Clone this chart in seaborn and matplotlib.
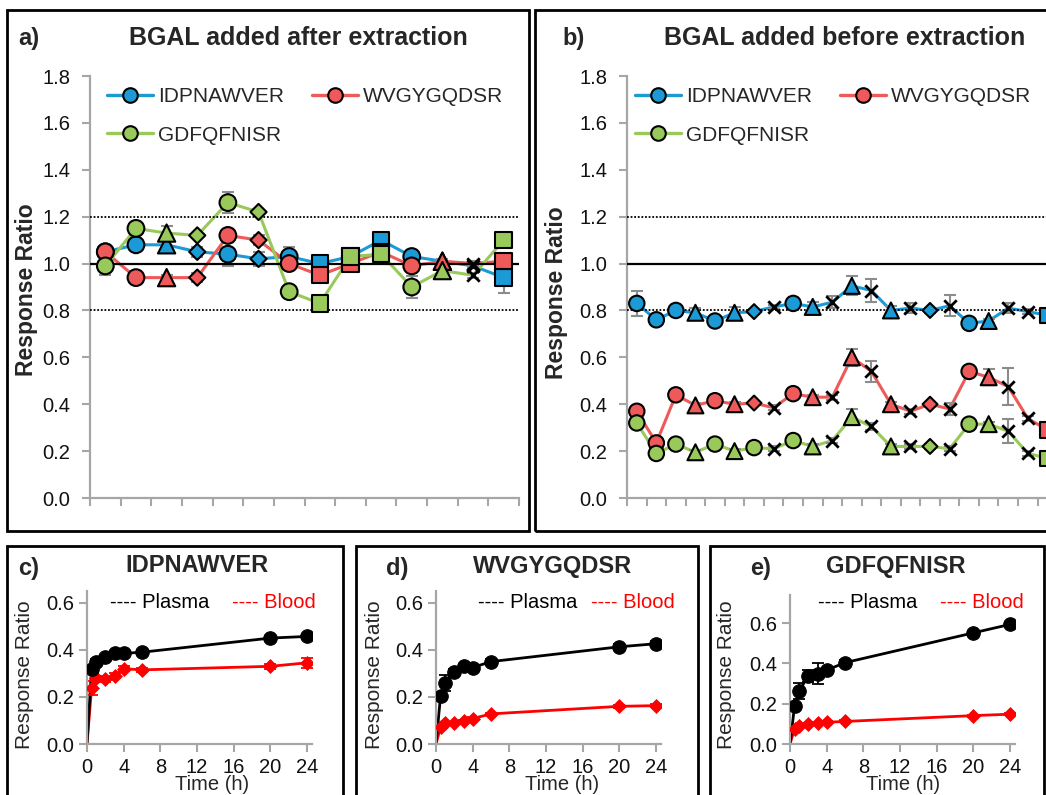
import matplotlib
matplotlib.use("Agg")
import matplotlib.pyplot as plt
from matplotlib.lines import Line2D
from matplotlib.patches import Rectangle
import numpy as np
import pandas as pd
import seaborn as sns

# ---- data ----
series = ["IDPNAWVER", "WVGYGQDSR", "GDFQFNISR"]
colors = {"IDPNAWVER": "#1B9AD6", "WVGYGQDSR": "#EE5A5A", "GDFQFNISR": "#98C95A"}

# panel a: BGAL added after extraction (14 samples)
a_shape = ['o', 'o', '^', 'D', 'o', 'D', 'o', 's', 's', 's', 'o', '^', 'x', 's']
a_idp = [1.05, 1.08, 1.08, 1.05, 1.04, 1.02, 1.03, 1.00, 1.03, 1.10, 1.03, 1.01, 0.99, 0.94]
a_wvg = [1.05, 0.94, 0.94, 0.94, 1.12, 1.10, 1.00, 0.95, 1.00, 1.05, 0.99, 1.01, 1.00, 1.01]
a_gdf = [0.99, 1.15, 1.13, 1.12, 1.26, 1.22, 0.88, 0.83, 1.03, 1.04, 0.90, 0.97, 0.95, 1.10]
a_idp_err = [0.02, 0.02, 0.02, 0.02, 0.05, 0.03, 0.04, 0.01, 0.01, 0.01, 0.01, 0.01, 0.01, 0.065]
a_wvg_err = [0.01, 0.01, 0.01, 0.02, 0.02, 0.02, 0.02, 0.02, 0.01, 0.01, 0.02, 0.01, 0.01, 0.02]
a_gdf_err = [0.04, 0.02, 0.03, 0.01, 0.045, 0.01, 0.01, 0.01, 0.01, 0.01, 0.045, 0.03, 0.01, 0.01]

# panel b: BGAL added before extraction (visible 22 samples)
b_shape_idp = ['o', 'o', 'o', '^', 'o', '^', 'D', 'x', 'o', '^', 'x', '^', 'x', '^', 'x', 'D', 'x', 'o', '^', 'x', 'x', 's']
b_shape_wvg = ['o', 'o', 'o', '^', 'o', '^', 'D', 'x', 'o', '^', 'x', '^', 'x', '^', 'x', 'D', 'x', 'o', '^', 'x', 'x', 's']
b_shape_gdf = ['o', 'o', 'o', '^', 'o', '^', 'o', 'x', 'o', '^', 'x', '^', 'x', '^', 'x', 'D', 'x', 'o', '^', 'x', 'x', 's']
b_idp = [0.83, 0.76, 0.80, 0.79, 0.755, 0.79, 0.795, 0.815, 0.83, 0.815, 0.835, 0.905, 0.885, 0.80, 0.81, 0.80, 0.82, 0.745, 0.755, 0.81, 0.795, 0.78]
b_wvg = [0.37, 0.235, 0.44, 0.395, 0.415, 0.40, 0.405, 0.385, 0.445, 0.43, 0.43, 0.60, 0.54, 0.40, 0.37, 0.40, 0.38, 0.54, 0.515, 0.475, 0.34, 0.29]
b_gdf = [0.32, 0.19, 0.23, 0.195, 0.23, 0.20, 0.215, 0.21, 0.245, 0.22, 0.245, 0.345, 0.305, 0.22, 0.22, 0.22, 0.21, 0.315, 0.315, 0.285, 0.19, 0.17]
b_idp_err = [0.055, 0.01, 0.01, 0.02, 0.01, 0.025, 0.01, 0.01, 0.01, 0.02, 0.025, 0.04, 0.05, 0.02, 0.02, 0.01, 0.045, 0.01, 0.01, 0.02, 0.01, 0.01]
b_wvg_err = [0.01, 0.01, 0.01, 0.01, 0.01, 0.01, 0.01, 0.01, 0.01, 0.01, 0.01, 0.035, 0.045, 0.01, 0.01, 0.01, 0.025, 0.01, 0.035, 0.08, 0.01, 0.01]
b_gdf_err = [0.01, 0.01, 0.01, 0.01, 0.01, 0.01, 0.01, 0.01, 0.01, 0.01, 0.01, 0.035, 0.015, 0.01, 0.01, 0.01, 0.01, 0.01, 0.01, 0.05, 0.01, 0.01]

# panels c-e: time course
time_h = [0, 0.5, 1, 2, 3, 4, 6, 20, 24]
c_plasma = [0, 0.32, 0.35, 0.37, 0.385, 0.385, 0.39, 0.45, 0.457]
c_blood = [0, 0.237, 0.28, 0.275, 0.29, 0.32, 0.315, 0.33, 0.345]
c_plasma_err = [0, 0.01, 0.01, 0.01, 0.01, 0.01, 0.01, 0.01, 0.01]
c_blood_err = [0, 0.03, 0.01, 0.01, 0.01, 0.01, 0.01, 0.01, 0.02]
d_plasma = [0, 0.205, 0.26, 0.305, 0.33, 0.325, 0.35, 0.413, 0.426]
d_blood = [0, 0.072, 0.089, 0.09, 0.099, 0.108, 0.128, 0.16, 0.163]
d_plasma_err = [0, 0.01, 0.035, 0.015, 0.01, 0.01, 0.01, 0.01, 0.01]
d_blood_err = [0, 0.005, 0.005, 0.005, 0.005, 0.005, 0.005, 0.005, 0.005]
e_plasma = [0, 0.19, 0.263, 0.339, 0.35, 0.367, 0.404, 0.552, 0.594]
e_blood = [0, 0.076, 0.087, 0.097, 0.104, 0.108, 0.112, 0.141, 0.148]
e_plasma_err = [0, 0.01, 0.04, 0.03, 0.05, 0.01, 0.015, 0.01, 0.01]
e_blood_err = [0, 0.005, 0.005, 0.005, 0.005, 0.005, 0.005, 0.005, 0.005]

# ---- style ----
sns.set_style("white")
plt.rcParams['font.family'] = ['Liberation Sans', 'DejaVu Sans']
GRAY = "#A6A6A6"
W, H = 1046, 795
fig = plt.figure(figsize=(W / 100, H / 100), dpi=100)


def px_axes(l, t, r, b):
    return fig.add_axes([l / W, 1 - b / H, (r - l) / W, (b - t) / H])


def box(x0, y0, x1, y1):
    fig.add_artist(Rectangle((x0 / W, 1 - y1 / H), (x1 - x0) / W, (y1 - y0) / H,
                             transform=fig.transFigure, fill=False, lw=2, ec='black'))


def ftext(x, y, s, **kw):
    fig.text(x / W, 1 - y / H, s, ha=kw.pop('ha', 'center'), va=kw.pop('va', 'center'), **kw)


def style_axes(ax, tick_size, ypad, xpad):
    for side in ['top', 'right']:
        ax.spines[side].set_visible(False)
    for side in ['left', 'bottom']:
        ax.spines[side].set_color(GRAY)
        ax.spines[side].set_linewidth(1.6)
    ax.tick_params(axis='both', direction='out', color=GRAY, width=1.5, length=6,
                   labelsize=tick_size, labelcolor='#111111', left=True, bottom=True)
    ax.tick_params(axis='y', pad=ypad)
    ax.tick_params(axis='x', pad=xpad)


def ratio_panel(ax, vals, errs, shapes, n_slots, scale):
    n = len(vals[0])
    rows = []
    for s, v, e, sh in zip(series, vals, errs, shapes):
        for i in range(n):
            rows.append({'pos': i, 'value': v[i], 'err': e[i], 'series': s, 'shape': sh[i]})
    df = pd.DataFrame(rows)

    sns.lineplot(data=df, x='pos', y='value', hue='series', palette=colors, hue_order=series,
                 lw=2.2, legend=False, sort=False, ax=ax, zorder=2)
    for s in series:
        sub = df[df['series'] == s]
        ax.errorbar(sub['pos'], sub['value'], yerr=sub['err'], fmt='none', ecolor='#8C8C8C',
                    elinewidth=1.5, capsize=4, capthick=1.5, zorder=2.5)

    ax.axhline(1.2, color='black', lw=1.3, ls=(0, (1, 1)), zorder=2.6)
    ax.axhline(0.8, color='black', lw=1.3, ls=(0, (1, 1)), zorder=2.6)
    ax.axhline(1.0, color='black', lw=1.6, zorder=2.6)

    sizes = {'o': 145, '^': 155, 'D': 68, 's': 140}
    for sh, sz in sizes.items():
        sub = df[df['shape'] == sh]
        if len(sub):
            sns.scatterplot(data=sub, x='pos', y='value', hue='series', palette=colors,
                            hue_order=series, marker=sh, s=sz * scale, edgecolor='black',
                            linewidth=1.5, legend=False, ax=ax, zorder=4)
    sub = df[df['shape'] == 'x']
    sns.scatterplot(data=sub, x='pos', y='value', color='black', marker='x', s=80,
                    linewidth=2, legend=False, ax=ax, zorder=4)

    ax.set_xlim(-0.5, n_slots - 0.5)
    ax.set_ylim(0, 1.8)
    ax.set_xticks(np.arange(-0.5, n_slots, 1))
    ax.set_xticklabels([])
    ax.set_yticks(np.arange(0, 1.81, 0.2))
    ax.set_yticklabels([f"{v:.1f}" for v in np.arange(0, 1.81, 0.2)])
    ax.set_xlabel('')
    ax.set_ylabel('')
    style_axes(ax, 14.5, 8, 4)

    order = ["IDPNAWVER", "GDFQFNISR", "WVGYGQDSR"]
    handles = [Line2D([], [], color=colors[s], lw=2.4, marker='o', ms=10.5,
                      mfc=colors[s], mec='black', mew=1.5) for s in order]
    ax.legend(handles, order, ncol=2, loc='upper left', frameon=False, fontsize=15,
              bbox_to_anchor=(0.04 if n_slots < 20 else 0.017, 0.974),
              borderpad=0, borderaxespad=0, handlelength=2.2, handletextpad=0.25,
              columnspacing=1.35, labelspacing=0.95)


def time_panel(ax, plasma, blood, plasma_err, blood_err, ymax):
    df = pd.DataFrame({'time': time_h * 2, 'value': plasma + blood,
                       'err': plasma_err + blood_err,
                       'matrix': ['Plasma'] * len(time_h) + ['Blood'] * len(time_h)})
    pal = {'Plasma': 'black', 'Blood': '#FF0000'}
    sns.lineplot(data=df, x='time', y='value', hue='matrix', palette=pal,
                 hue_order=['Blood', 'Plasma'], lw=2, legend=False, sort=False, ax=ax, zorder=2)
    pts = df[df['time'] > 0]
    for m in ['Blood', 'Plasma']:
        sub = pts[pts['matrix'] == m]
        ax.errorbar(sub['time'], sub['value'], yerr=sub['err'], fmt='none', ecolor=pal[m],
                    elinewidth=1.3, capsize=4, capthick=1.3, zorder=2.5)
    sns.scatterplot(data=pts[pts['matrix'] == 'Blood'], x='time', y='value', color='#FF0000',
                    marker='D', s=50, edgecolor='#FF0000', legend=False, ax=ax, zorder=4)
    sns.scatterplot(data=pts[pts['matrix'] == 'Plasma'], x='time', y='value', color='black',
                    marker='o', s=95, edgecolor='black', legend=False, ax=ax, zorder=4)
    ax.set_xlim(0, 24.5)
    ax.set_ylim(0, ymax)
    ax.set_xticks(range(0, 25, 4))
    ax.set_yticks([0, 0.2, 0.4, 0.6])
    ax.set_yticklabels(['0.0', '0.2', '0.4', '0.6'])
    ax.set_xlabel('')
    ax.set_ylabel('')
    style_axes(ax, 14.5, 3.5, 4)


# ---- frames ----
box(7, 10, 529, 531)
box(535, 10, 1060, 531)
box(7, 546, 343, 810)
box(356, 546, 698, 810)
box(710, 546, 1044, 810)

# ---- panel a ----
ax_a = px_axes(90, 76, 519, 498)
ratio_panel(ax_a, [a_idp, a_wvg, a_gdf], [a_idp_err, a_wvg_err, a_gdf_err],
            [a_shape, a_shape, a_shape], 14, 1.0)
ftext(29, 38, "a)", fontsize=17, fontweight='bold')
ftext(298, 38, "BGAL added after extraction", fontsize=18, fontweight='bold')
ftext(27, 290, "Response Ratio", fontsize=16.5, fontweight='bold', rotation=90)

# ---- panel b ----
ax_b = px_axes(627, 76, 627 + 24 * 19.55, 498)
ratio_panel(ax_b, [b_idp, b_wvg, b_gdf], [b_idp_err, b_wvg_err, b_gdf_err],
            [b_shape_idp, b_shape_wvg, b_shape_gdf], 24, 0.85)
ftext(574, 38, "b)", fontsize=17, fontweight='bold')
ftext(845, 38, "BGAL added before extraction", fontsize=18, fontweight='bold')
ftext(557, 293, "Response Ratio", fontsize=16.5, fontweight='bold', rotation=90)

# ---- panels c, d, e ----
panels = [
    (87, 591, "c)", 29, "IDPNAWVER", 197, 25, 212, 110, 232, c_plasma, c_blood, c_plasma_err, c_blood_err, 0.65),
    (436, 591, "d)", 397, "WVGYGQDSR", 553, 374, 562, 478, 591, d_plasma, d_blood, d_plasma_err, d_blood_err, 0.65),
    (790, 595, "e)", 761, "GDFQFNISR", 896, 727, 903, 818, 940, e_plasma, e_blood, e_plasma_err, e_blood_err, 0.74),
]
for (l, t, tag, tag_x, title, title_x, ylab_x, xlab_x, pl_x, bl_x,
     plasma, blood, perr, berr, ymax) in panels:
    ax = px_axes(l, t, l + 24.5 * 9.17, 744)
    time_panel(ax, plasma, blood, perr, berr, ymax)
    ftext(tag_x, 568, tag, fontsize=17, fontweight='bold')
    ftext(title_x, 566, title, fontsize=17, fontweight='bold')
    ftext(ylab_x, 675, "Response Ratio", fontsize=15, rotation=90)
    ftext(xlab_x, 785, "Time (h)", fontsize=14.5)
    ftext(pl_x, 602, "---- Plasma", fontsize=14.5, ha='left', color='black')
    ftext(bl_x, 602, "---- Blood", fontsize=14.5, ha='left', color='#FF0000')

fig.savefig("out.png", dpi=100)
